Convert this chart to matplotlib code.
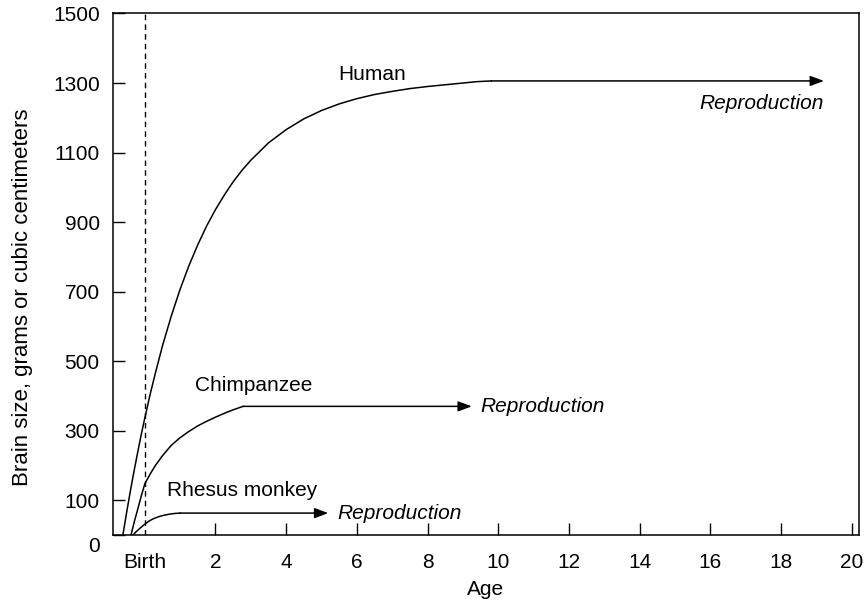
import matplotlib
matplotlib.use('Agg')
import matplotlib.pyplot as plt
from matplotlib.transforms import ScaledTranslation

plt.rcParams['font.family'] = ['Liberation Sans', 'DejaVu Sans']

# age (years, 0 = birth) vs brain size (grams / cc)
human_age = [-0.62, -0.5, -0.4, -0.3, -0.2, -0.1, 0, 0.15, 0.3, 0.5, 0.75, 1.0, 1.25, 1.5, 1.75,
             2.0, 2.25, 2.5, 2.75, 3.0, 3.5, 4.0, 4.5, 5.0, 5.5, 6.0, 6.5, 7.0, 7.5, 8.0, 8.5,
             9.0, 9.4, 9.8]
human_size = [0, 73, 131, 186, 238, 289, 336, 404, 466, 544, 630, 707, 775, 835, 889,
              936, 978, 1016, 1049, 1078, 1128, 1166, 1197, 1221, 1240, 1255, 1267, 1276, 1284, 1290, 1295,
              1300, 1304, 1306]
human_repro = 19.21

chimp_age = [-0.39, -0.3, -0.2, -0.1, 0, 0.15, 0.3, 0.5, 0.75, 1.0, 1.25, 1.5, 1.75,
             2.0, 2.25, 2.5, 2.78]
chimp_size = [0, 37, 74, 112, 147, 175, 200, 228, 258, 280, 298, 314, 327,
              339, 350, 360, 370]
chimp_repro = 9.25

rhesus_age = [-0.33, -0.25, -0.15, -0.05, 0.05, 0.15, 0.25, 0.4, 0.55, 0.7, 0.85, 1.0]
rhesus_size = [0, 9, 18, 27, 35, 42, 47, 53, 57, 60, 62, 63]
rhesus_repro = 5.19

xtick_vals = [2, 4, 6, 8, 10, 12, 14, 16, 18, 20]
ytick_vals = [0, 100, 300, 500, 700, 900, 1100, 1300, 1500]

fig = plt.figure(figsize=(8.65, 6.02), dpi=100)
ax = fig.add_axes([0.1306, 0.1113, 0.8624, 0.8663])

lw = 1.1
fs = 15

ax.axvline(0, color='black', lw=1.0, ls=(0, (4, 3)))

for ages, sizes, repro in [(human_age, human_size, human_repro),
                           (chimp_age, chimp_size, chimp_repro),
                           (rhesus_age, rhesus_size, rhesus_repro)]:
    ax.plot(ages, sizes, color='black', lw=lw, solid_joinstyle='round')
    ax.annotate('', xy=(repro, sizes[-1]), xytext=(ages[-1], sizes[-1]),
                arrowprops=dict(arrowstyle='-|>,head_length=0.75,head_width=0.28',
                                color='black', lw=lw, shrinkA=0, shrinkB=0,
                                mutation_scale=11))

ax.text(6.43, 1325, 'Human', fontsize=fs, ha='center', va='center')
ax.text(human_repro, 1240, 'Reproduction', fontsize=fs, style='italic',
        ha='right', va='center')
ax.text(3.08, 430, 'Chimpanzee', fontsize=fs, ha='center', va='center')
ax.text(9.48, chimp_size[-1], 'Reproduction', fontsize=fs, style='italic',
        ha='left', va='center')
ax.text(2.76, 127, 'Rhesus monkey', fontsize=fs, ha='center', va='center')
ax.text(5.44, rhesus_size[-1], 'Reproduction', fontsize=fs, style='italic',
        ha='left', va='center')

ax.set_xlim(-0.9, 20.2)
ax.set_ylim(0, 1500)
ax.set_xticks(xtick_vals)
ax.set_xticks([0], labels=['Birth'], minor=True)
ax.set_yticks(ytick_vals)
ax.tick_params(which='major', direction='in', length=8.5, width=1.0,
               labelsize=fs)
ax.tick_params(which='minor', length=0, labelsize=fs)
ax.tick_params(axis='x', which='both', pad=13)
ax.tick_params(axis='y', which='both', pad=9.5)

# the "0" sits a little below the corner
zero_lbl = ax.get_yticklabels()[0]
zero_lbl.set_transform(zero_lbl.get_transform() + ScaledTranslation(0, -7 / 72, fig.dpi_scale_trans))

for s in ax.spines.values():
    s.set_linewidth(1.1)

ax.set_xlabel('Age', fontsize=fs, labelpad=6)
ax.set_ylabel('Brain size, grams or cubic centimeters', fontsize=16)
ax.yaxis.set_label_coords(-0.107, 0.456)

fig.savefig('out.png', dpi=100)
